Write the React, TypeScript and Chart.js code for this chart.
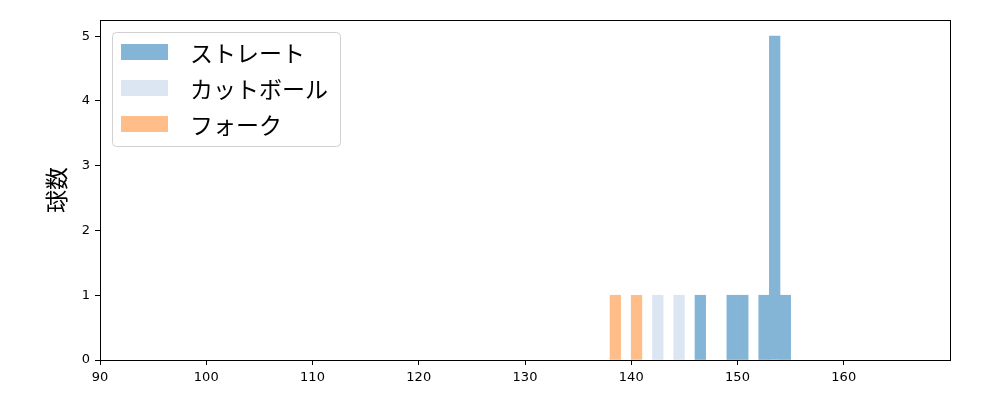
import { useEffect, useRef } from "react";
import { Chart, registerables } from "chart.js";

Chart.register(...registerables);

// pitch speed histogram (km/h bins, 1 km/h wide)
const pitchTypes = ["ストレート", "カットボール", "フォーク"];
const straightBins = [146, 149, 150, 152, 153, 154];
const straightCounts = [1, 1, 1, 1, 5, 1];
const cutBins = [142, 144];
const cutCounts = [1, 1];
const forkBins = [138, 140];
const forkCounts = [1, 1];
const binWidth = 1;
const xTicks = [90, 100, 110, 120, 130, 140, 150, 160];
const yTicks = [0, 1, 2, 3, 4, 5];

const toPoints = (bins: number[], counts: number[]) =>
  bins.map((b, i) => ({ x: b + binWidth / 2, y: counts[i] }));

const frame = {
  id: "frame",
  afterDraw(chart: any) {
    const { ctx, chartArea } = chart;
    ctx.save();
    ctx.strokeStyle = "#000";
    ctx.lineWidth = 1;
    ctx.strokeRect(
      chartArea.left + 0.5,
      chartArea.top + 0.5,
      chartArea.right - chartArea.left,
      chartArea.bottom - chartArea.top
    );
    ctx.restore();
  },
};

const legendBox = {
  id: "legendBox",
  afterDraw(chart: any) {
    const { ctx, chartArea } = chart;
    const x0 = chartArea.left + 12;
    const y0 = chartArea.top + 12;
    ctx.save();
    ctx.font = '23px "Noto Sans CJK JP"';
    const datasets = chart.data.datasets;
    const maxW = Math.max(
      ...datasets.map((d: any) => ctx.measureText(d.label).width)
    );
    const w = 78 + maxW + 12;
    const h = 114;
    ctx.beginPath();
    ctx.roundRect(x0 + 0.5, y0 + 0.5, w, h, 4);
    ctx.fillStyle = "rgba(255,255,255,0.8)";
    ctx.fill();
    ctx.strokeStyle = "#d0d0d0";
    ctx.lineWidth = 1;
    ctx.stroke();
    datasets.forEach((d: any, i: number) => {
      const cy = y0 + 20 + i * 36;
      ctx.fillStyle = d.backgroundColor;
      ctx.fillRect(x0 + 9, cy - 8, 47, 16);
      ctx.fillStyle = "#000";
      ctx.textBaseline = "middle";
      ctx.textAlign = "left";
      ctx.fillText(d.label, x0 + 78, cy + 1);
    });
    ctx.restore();
  },
};

export default function App() {
  const chartRef = useRef<HTMLCanvasElement>(null);
  const chartInstance = useRef<Chart | null>(null);

  useEffect(() => {
    document.body.style.margin = "0";
    if (!chartRef.current) return;
    if (chartInstance.current) {
      chartInstance.current.destroy();
    }
    const ctx = chartRef.current.getContext("2d");
    if (!ctx) return;

    chartInstance.current = new Chart(ctx, {
      type: "bar",
      data: {
        datasets: [
          {
            label: pitchTypes[0],
            data: toPoints(straightBins, straightCounts),
            backgroundColor: "rgb(132, 180, 214)",
            borderWidth: 0,
          },
          {
            label: pitchTypes[1],
            data: toPoints(cutBins, cutCounts),
            backgroundColor: "rgb(220, 230, 243)",
            borderWidth: 0,
          },
          {
            label: pitchTypes[2],
            data: toPoints(forkBins, forkCounts),
            backgroundColor: "rgb(255, 189, 138)",
            borderWidth: 0,
          },
        ] as any,
      },
      plugins: [frame, legendBox],
      options: {
        responsive: true,
        maintainAspectRatio: false,
        animation: false,
        events: [],
        grouped: false,
        barPercentage: 1,
        categoryPercentage: 1,
        layout: { padding: { top: 20, right: 50, left: 0, bottom: 0 } },
        scales: {
          x: {
            type: "linear",
            min: 90,
            max: 170,
            offset: false,
            afterBuildTicks: (scale: any) => {
              scale.ticks = xTicks.map((v) => ({ value: v }));
            },
            afterFit: (scale: any) => {
              scale.height = 40;
            },
            grid: {
              offset: false,
              drawOnChartArea: false,
              drawTicks: true,
              tickLength: 5,
              color: "#000",
            },
            border: { color: "#000", width: 1 },
            ticks: {
              color: "#000",
              padding: 5,
              maxRotation: 0,
              font: { family: "DejaVu Sans", size: 13 },
            },
          },
          y: {
            type: "linear",
            min: 0,
            max: 5.25,
            afterBuildTicks: (scale: any) => {
              scale.ticks = yTicks.map((v) => ({ value: v }));
            },
            afterFit: (scale: any) => {
              scale.width = 100;
            },
            grid: {
              drawOnChartArea: false,
              drawTicks: true,
              tickLength: 5,
              color: "#000",
            },
            border: { color: "#000", width: 1 },
            ticks: {
              color: "#000",
              padding: 5,
              font: { family: "DejaVu Sans", size: 13 },
            },
            title: {
              display: true,
              text: "球数",
              color: "#000",
              padding: { top: 42, bottom: 0 },
              font: { family: "Noto Sans CJK JP", size: 23 },
            },
          },
        },
        plugins: {
          legend: { display: false },
          tooltip: { enabled: false },
        },
      } as any,
    });

    return () => {
      if (chartInstance.current) {
        chartInstance.current.destroy();
        chartInstance.current = null;
      }
    };
  }, []);

  return (
    <div style={{ width: 1000, height: 400, position: "relative" }}>
      <canvas ref={chartRef} />
    </div>
  );
}
